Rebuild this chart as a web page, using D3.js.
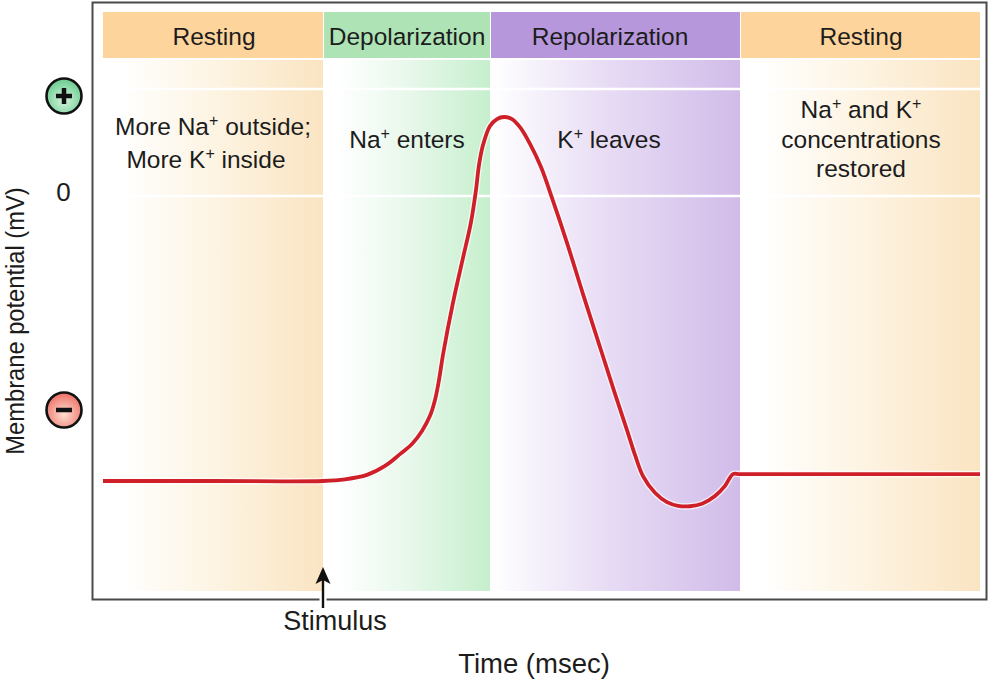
<!DOCTYPE html>
<html>
<head>
<meta charset="utf-8">
<script src="https://cdn.jsdelivr.net/npm/d3@7"></script>
<style>
  html, body { margin: 0; padding: 0; background: #fff; }
  text { font-family: "Liberation Sans", Arial, sans-serif; fill: #1c1c1c; }
</style>
</head>
<body>
<script>
const w = 991;
const h = 682;

// phases, times in msec
const phaseNames = ["Resting", "Depolarization", "Repolarization", "Resting"];
const phaseStart = [0, 2.20, 3.87, 6.37];
const phaseEnd = [2.20, 3.87, 6.37, 8.77];
const phaseLabelAt = [1.11, 3.04, 5.07, 7.58];
const headColors = ["#fdd49b", "#aee3b6", "#b797db", "#fdd49b"];
const midColors = ["#fdf4e3", "#e9f8ec", "#e6daf4", "#fdf4e3"];
const bodyColors = ["#fae4c2", "#c6efcd", "#d1bce9", "#fae4c2"];

// membrane potential trace
const times = [0, 1.10, 2.20, 2.42, 2.64, 2.82, 2.97, 3.09, 3.19, 3.27, 3.32, 3.36, 3.40, 3.50, 3.60, 3.68, 3.73, 3.76, 3.80, 3.87, 3.94, 4.01,
  4.09, 4.17, 4.27, 4.38, 4.50, 4.64, 4.80, 4.97, 5.12, 5.24, 5.32, 5.40, 5.52, 5.64, 5.75, 5.87, 5.99, 6.12, 6.22, 6.30, 6.37, 7.50, 8.77];
const millivolts = [-70, -70, -70, -69.6, -68.5, -66.3, -63.4, -60.9, -57.7, -54, -50.1, -45.2, -39, -26.2, -15.2, -6.4, 1.5, 7.6, 12.5, 17.2, 18.9, 19.4,
  18.9, 16.9, 12.8, 7.1, -1.2, -11.5, -24.1, -37.1, -48.6, -57.5, -63.6, -68.8, -72.9, -75.2, -76.1, -76.2, -75.6, -73.7, -71.2, -68.3, -68.3, -68.3, -68.3];

const gridValues = [26.3, 0];
const yTicks = [0];
const stimulusTime = 2.20;

// notes inside the phases, each line is a list of [text, superscript] runs
const noteTimes = [1.10, 1.03, 3.04, 5.06, 7.58, 7.58, 7.58];
const noteLevels = [14.9, 6.8, 11.9, 11.9, 19.1, 11.7, 4.6];
const noteRuns = [
  [["More Na", 0], ["+", 1], [" outside;", 0]],
  [["More K", 0], ["+", 1], [" inside", 0]],
  [["Na", 0], ["+", 1], [" enters", 0]],
  [["K", 0], ["+", 1], [" leaves", 0]],
  [["Na", 0], ["+", 1], [" and K", 0], ["+", 1]],
  [["concentrations", 0]],
  [["restored", 0]]
];

let svg = d3.select("body")
            .append("svg")
            .attr("width", w)
            .attr("height", h)
            .style("display", "block");

let x = d3.scaleLinear().domain([0, 8.77]).range([103, 980]);
let y = d3.scaleLinear().domain([0, -70]).range([196, 481]);

let defs = svg.append("defs");

// white -> colour fade for each phase
phaseNames.forEach((name, i) => {
  let g = defs.append("linearGradient").attr("id", "body" + i);
  g.append("stop").attr("offset", i == 2 ? "0%" : "8%").attr("stop-color", "#fff");
  g.append("stop").attr("offset", "50%").attr("stop-color", midColors[i]);
  g.append("stop").attr("offset", "100%").attr("stop-color", bodyColors[i]);
});

function ball(id, inner, outer) {
  let g = defs.append("radialGradient").attr("id", id).attr("cy", "62%").attr("r", "55%");
  g.append("stop").attr("offset", "0%").attr("stop-color", inner);
  g.append("stop").attr("offset", "100%").attr("stop-color", outer);
}
ball("plus", "#d6f5dc", "#72cf96");
ball("minus", "#ffe0d2", "#ee7a70");

// frame
svg.append("rect")
   .attr("x", 92.5).attr("y", 2.5)
   .attr("width", 894).attr("height", 597)
   .attr("fill", "#fff")
   .attr("stroke", "#4a4a4a")
   .attr("stroke-width", 2);

// phase bodies
svg.selectAll("rect.body")
   .data(phaseNames)
   .enter()
   .append("rect")
   .attr("class", "body")
   .attr("x", (d, i) => x(phaseStart[i]))
   .attr("y", 60)
   .attr("width", (d, i) => x(phaseEnd[i]) - x(phaseStart[i]))
   .attr("height", 531)
   .attr("fill", (d, i) => "url(#body" + i + ")");

// white rules through the bodies
svg.selectAll("line.grid")
   .data(gridValues)
   .enter()
   .append("line")
   .attr("class", "grid")
   .attr("x1", x(0)).attr("x2", x(8.77))
   .attr("y1", d => y(d)).attr("y2", d => y(d))
   .attr("stroke", "#fff")
   .attr("stroke-width", 2.5);

// phase headers
svg.selectAll("rect.head")
   .data(phaseNames)
   .enter()
   .append("rect")
   .attr("class", "head")
   .attr("x", (d, i) => x(phaseStart[i]) + (i ? 1 : 0))
   .attr("y", 12)
   .attr("width", (d, i) => x(phaseEnd[i]) - x(phaseStart[i]) - (i ? 1 : 0))
   .attr("height", 46)
   .attr("fill", (d, i) => headColors[i]);

svg.selectAll("text.head")
   .data(phaseNames)
   .enter()
   .append("text")
   .attr("class", "head")
   .attr("x", (d, i) => x(phaseLabelAt[i]))
   .attr("y", 45)
   .attr("text-anchor", "middle")
   .attr("font-size", 24.5)
   .text(d => d);

// notes
noteRuns.forEach((runs, i) => {
  let txt = svg.append("text")
     .attr("x", x(noteTimes[i]))
     .attr("y", y(noteLevels[i]))
     .attr("text-anchor", "middle")
     .attr("font-size", 24.5);
  runs.forEach(run => {
    txt.append("tspan")
       .attr("font-size", run[1] ? 16 : 24.5)
       .attr("baseline-shift", run[1] ? "9" : null)
       .text(run[0]);
  });
});

// the trace, white casing under red
let line = d3.line()
             .x((d, i) => x(times[i]))
             .y(d => y(d))
             .curve(d3.curveCatmullRom.alpha(0.5));

svg.append("path")
   .attr("d", line(millivolts))
   .attr("fill", "none")
   .attr("stroke", "#fff")
   .attr("stroke-opacity", 0.7)
   .attr("stroke-width", 6.5);

svg.append("path")
   .attr("d", line(millivolts))
   .attr("fill", "none")
   .attr("stroke", "#cf1f28")
   .attr("stroke-width", 3.8);

// y axis: only the 0 tick
let yAxis = svg.append("g")
   .attr("transform", "translate(63.5,-4)")
   .call(d3.axisLeft(y).tickValues(yTicks).tickSize(0).tickPadding(0));
yAxis.select(".domain").remove();
yAxis.selectAll("text")
     .attr("font-size", 26)
     .attr("text-anchor", "middle")
     .style("font-family", '"Liberation Sans", Arial, sans-serif')
     .attr("fill", "#1c1c1c");

// + and - balls
function sign(cy, id, isPlus) {
  svg.append("circle")
     .attr("cx", 64).attr("cy", cy).attr("r", 17.5)
     .attr("fill", "url(#" + id + ")")
     .attr("stroke", "#111")
     .attr("stroke-width", 2.6);
  svg.append("line")
     .attr("x1", 56).attr("x2", 72).attr("y1", cy).attr("y2", cy)
     .attr("stroke", "#111").attr("stroke-width", 4.5);
  if (isPlus) {
    svg.append("line")
       .attr("x1", 64).attr("x2", 64).attr("y1", cy - 8).attr("y2", cy + 8)
       .attr("stroke", "#111").attr("stroke-width", 4.5);
  }
}
sign(96, "plus", true);
sign(410, "minus", false);

// stimulus arrow, with a small gap in the frame around it
svg.append("line")
   .attr("x1", x(stimulusTime)).attr("x2", x(stimulusTime))
   .attr("y1", 592).attr("y2", 606)
   .attr("stroke", "#fff").attr("stroke-width", 7);
svg.append("line")
   .attr("x1", x(stimulusTime)).attr("x2", x(stimulusTime))
   .attr("y1", 575).attr("y2", 608)
   .attr("stroke", "#111").attr("stroke-width", 2.4);
svg.append("path")
   .attr("d", d3.line()([[x(stimulusTime), 567], [x(stimulusTime) + 7.5, 584], [x(stimulusTime), 580], [x(stimulusTime) - 7.5, 584]]))
   .attr("fill", "#111");

svg.append("text")
   .attr("x", 335).attr("y", 630)
   .attr("text-anchor", "middle")
   .attr("font-size", 27)
   .text("Stimulus");

svg.append("text")
   .attr("x", 534).attr("y", 673)
   .attr("text-anchor", "middle")
   .attr("font-size", 27.5)
   .text("Time (msec)");

svg.append("text")
   .attr("transform", "translate(24,321) rotate(-90) scale(0.912,1)")
   .attr("text-anchor", "middle")
   .attr("font-size", 26)
   .text("Membrane potential (mV)");
</script>
</body>
</html>
